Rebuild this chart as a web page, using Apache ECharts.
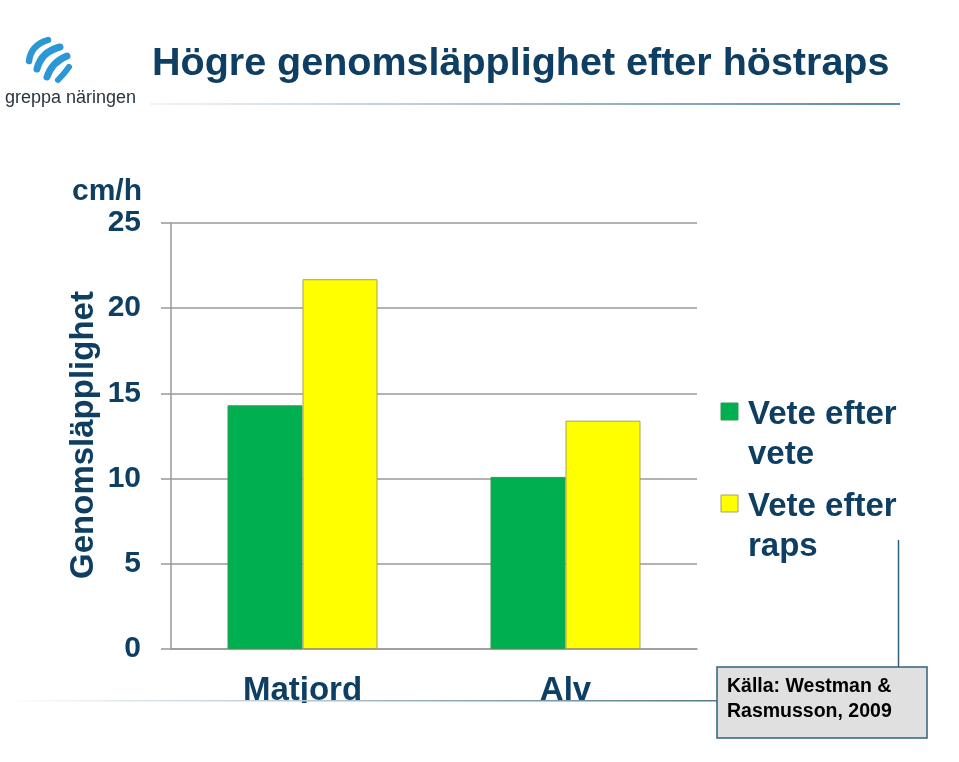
<!DOCTYPE html>
<html><head><meta charset="utf-8">
<script src="https://cdn.jsdelivr.net/npm/echarts@6/dist/echarts.min.js"></script>
<style>html,body{margin:0;padding:0;background:#fff}#c{width:959px;height:762px}</style>
</head><body><div id="c"></div>
<script>
const categories = ['Matjord', 'Alv'];
const seriesNames = ['Vete efter\nvete', 'Vete efter\nraps'];
const veteEfterVete = [14.3, 10.1];
const veteEfterRaps = [21.7, 13.4];
const yTicks = [0, 5, 10, 15, 20, 25];

const navy = '#0e3f63';
const font = 'Liberation Sans, Arial, sans-serif';
const chart = echarts.init(document.getElementById('c'), null, {renderer: 'canvas'});

function lineGrad(c0, c1) {
  return new echarts.graphic.LinearGradient(0, 0, 1, 0, [{offset: 0, color: c0}, {offset: 1, color: c1}]);
}
function stripe(x1, y1, cx, cy, x2, y2, w) {
  return {type: 'bezierCurve', shape: {x1: x1, y1: y1, cpx1: cx, cpy1: cy, x2: x2, y2: y2},
          style: {stroke: '#2b97d6', lineWidth: w, fill: null, lineCap: 'round'}};
}

chart.setOption({
  animation: false,
  backgroundColor: '#fff',
  grid: {left: 171, right: 262, top: 223, bottom: 113},
  xAxis: {
    type: 'category', data: categories,
    axisLine: {lineStyle: {color: '#999', width: 1.5}},
    axisTick: {show: false},
    axisLabel: {color: navy, fontFamily: font, fontWeight: 'bold', fontSize: 33, margin: 25}
  },
  yAxis: {
    type: 'value', min: yTicks[0], max: yTicks[yTicks.length - 1], interval: 5,
    axisLine: {show: true, lineStyle: {color: '#999', width: 1.5}},
    axisTick: {show: true, length: 10, lineStyle: {color: '#999', width: 1.5}},
    splitLine: {lineStyle: {color: '#999', width: 1.5}},
    axisLabel: {color: navy, fontFamily: font, fontWeight: 'bold', fontSize: 30, margin: 30}
  },
  series: [
    {name: seriesNames[0], type: 'bar', data: veteEfterVete, barWidth: 75, barGap: '0%',
     itemStyle: {color: '#00b050', borderColor: '#2f9a50', borderWidth: 1}},
    {name: seriesNames[1], type: 'bar', data: veteEfterRaps, barWidth: 75, barGap: '0%',
     itemStyle: {color: '#ffff00', borderColor: '#a8a060', borderWidth: 1}}
  ],
  graphic: [
    // title
    {type: 'text', left: 152, top: 44, z: 10, style: {text: 'Högre genomsläpplighet efter höstraps', fill: navy, font: 'bold 39.5px ' + font}},
    {type: 'rect', shape: {x: 150, y: 103, width: 750, height: 2}, style: {fill: lineGrad('#f2f5f8', '#5d87a3')}},
    // logo
    stripe(29, 61, 31, 45, 48, 40, 6.5),
    stripe(37, 69, 41, 52, 60, 47, 7),
    stripe(47, 77, 52, 62, 67, 56, 7),
    stripe(58, 80, 64, 74, 69, 67, 6),
    {type: 'text', left: 5, top: 89, style: {text: 'greppa näringen', fill: '#2a3540', font: '18px ' + font}},
    // unit & axis title
    {type: 'text', right: 959 - 142, top: 177, style: {text: 'cm/h', fill: navy, font: 'bold 30px ' + font, textAlign: 'right'}},
    {type: 'text', x: 84, y: 435, rotation: Math.PI / 2, style: {text: 'Genomsläpplighet', fill: navy, font: 'bold 33px ' + font, textAlign: 'center', textVerticalAlign: 'middle'}},
    // legend
    {type: 'rect', shape: {x: 721, y: 403, width: 17, height: 17}, style: {fill: '#00b050', stroke: '#2f9a50', lineWidth: 1}},
    {type: 'text', left: 748, top: 395, style: {text: 'Vete efter\nvete', fill: navy, font: 'bold 33px ' + font, lineHeight: 40}},
    {type: 'rect', shape: {x: 721, y: 495, width: 17, height: 17}, style: {fill: '#ffff00', stroke: '#a8a060', lineWidth: 1}},
    {type: 'text', left: 748, top: 487, style: {text: 'Vete efter\nraps', fill: navy, font: 'bold 33px ' + font, lineHeight: 40}},
    // cover below label strip (labels are clipped in the original)
    {type: 'rect', z: 100, shape: {x: 150, y: 703, width: 560, height: 59}, style: {fill: '#fff'}},
    // bottom line & connector
    {type: 'rect', z: 101, shape: {x: 0, y: 700, width: 717, height: 1.5}, style: {fill: lineGrad('#ffffff', '#4f7a90')}},
    {type: 'line', shape: {x1: 898.5, y1: 540, x2: 898.5, y2: 667}, style: {stroke: '#2f6278', lineWidth: 1.5}},
    // source box
    {type: 'rect', z: 102, shape: {x: 717, y: 667, width: 210, height: 71}, style: {fill: '#e0e0e0', stroke: '#2f6278', lineWidth: 1.5}},
    {type: 'text', z: 103, left: 727, top: 674, style: {text: 'Källa: Westman &\nRasmusson, 2009', fill: '#000', font: 'bold 19.5px ' + font, lineHeight: 25}}
  ]
});
</script></body></html>
